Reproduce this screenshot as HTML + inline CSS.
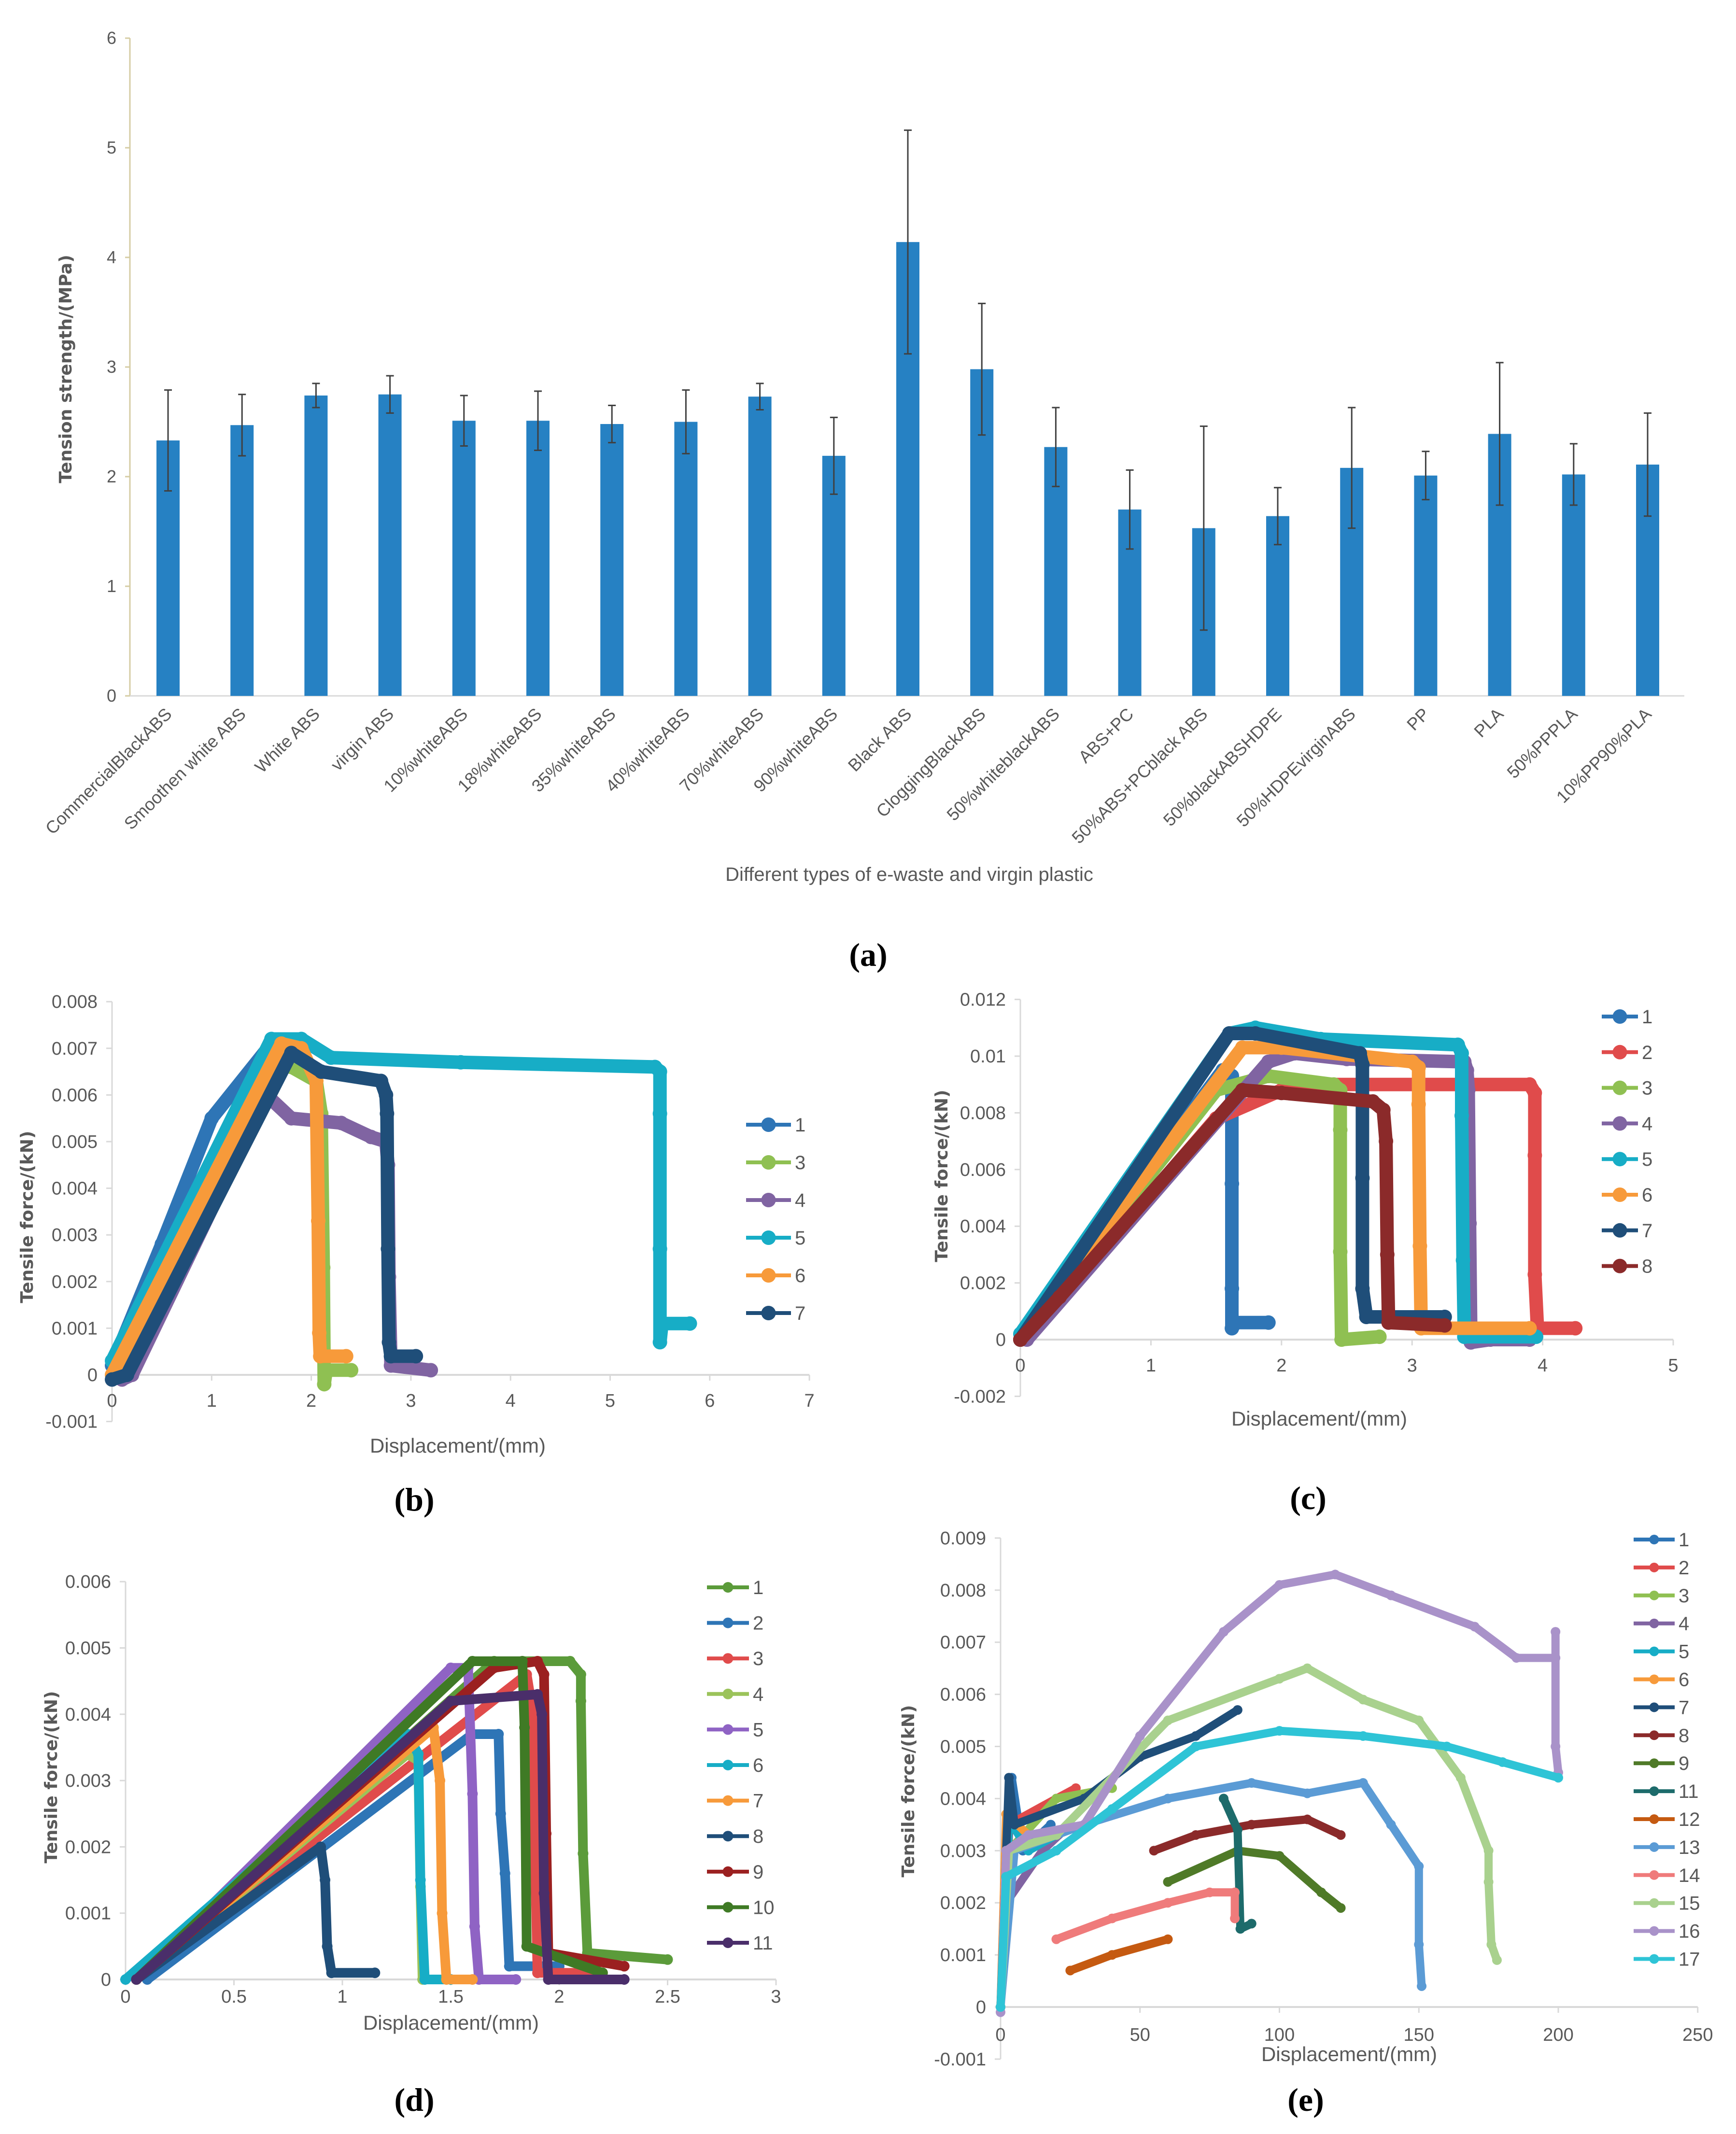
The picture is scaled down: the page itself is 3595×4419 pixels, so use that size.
<!DOCTYPE html>
<html><head><meta charset="utf-8">
<style>
html,body{margin:0;padding:0;background:#fff;}
svg{display:block;}
text{font-family:"Liberation Sans Narrow","Liberation Sans",sans-serif;fill:#595959;}
.yt{font-family:"DejaVu Sans","Liberation Sans",sans-serif;font-weight:bold;fill:#595959;}
.pl{font-family:"Liberation Serif",serif;font-weight:bold;fill:#000;font-size:68px;}
</style></head>
<body>
<svg id="fig" width="3595" height="4419" viewBox="0 0 3595 4419" xmlns="http://www.w3.org/2000/svg">
<rect width="3595" height="4419" fill="#fff"/>
<text class="pl" x="1798" y="2000" text-anchor="middle">(a)</text>
<text class="pl" x="858" y="3128" text-anchor="middle">(b)</text>
<text class="pl" x="2709" y="3125" text-anchor="middle">(c)</text>
<text class="pl" x="858" y="4371" text-anchor="middle">(d)</text>
<text class="pl" x="2704" y="4371" text-anchor="middle">(e)</text>
</svg>
<script>
// ---- Chart (a) data ----
const aCategories=["CommercialBlackABS","Smoothen white ABS","White ABS","virgin ABS","10%whiteABS","18%whiteABS","35%whiteABS","40%whiteABS","70%whiteABS","90%whiteABS","Black ABS","CloggingBlackABS","50%whiteblackABS","ABS+PC","50%ABS+PCblack ABS","50%blackABSHDPE","50%HDPEvirginABS","PP","PLA","50%PPPLA","10%PP90%PLA"];
const aValues=[2.33,2.47,2.74,2.75,2.51,2.51,2.48,2.50,2.73,2.19,4.14,2.98,2.27,1.70,1.53,1.64,2.08,2.01,2.39,2.02,2.11];
const aErrors=[0.46,0.28,0.11,0.17,0.23,0.27,0.17,0.29,0.12,0.35,1.02,0.60,0.36,0.36,0.93,0.26,0.55,0.22,0.65,0.28,0.47];
const aTicks=[0,1,2,3,4,5,6];

// ---- Chart (b) data ----
const bLabels=["1","3","4","5","6","7"];
const bSeries=[
[[0,0.0002],[0.5,0.0028],[1.0,0.0055],[1.6,0.0071],[1.8,0.0071]],
[[0.05,0],[1.6,0.0068],[1.8,0.0066],[2.05,0.0063],[2.1,0.0056],[2.12,0.0023],[2.13,-0.0002],[2.15,0.0001],[2.4,0.0001]],
[[0.1,-0.0001],[0.2,0],[1.55,0.006],[1.8,0.0055],[2.3,0.0054],[2.6,0.0051],[2.75,0.005],[2.77,0.0045],[2.78,0.0021],[2.8,0.0002],[3.2,0.0001]],
[[0,0.0003],[1.6,0.0072],[1.9,0.0072],[2.2,0.0068],[3.5,0.0067],[5.45,0.0066],[5.5,0.0065],[5.5,0.0056],[5.5,0.0027],[5.5,0.0007],[5.52,0.0011],[5.8,0.0011]],
[[0,0],[1.7,0.0071],[1.9,0.007],[2.05,0.0063],[2.07,0.0033],[2.08,0.0009],[2.09,0.0004],[2.35,0.0004]],
[[0,-0.0001],[0.15,0],[1.8,0.0069],[2.1,0.0065],[2.7,0.0063],[2.75,0.006],[2.76,0.0056],[2.77,0.0027],[2.78,0.0007],[2.8,0.0004],[3.05,0.0004]]
];
const bColors=["#2e75b6","#8fc052","#8064a2","#17adc6","#f79a3a","#1f4e79"];
const bXTicks=[0,1,2,3,4,5,6,7];
const bYTicks=[-0.001,0,0.001,0.002,0.003,0.004,0.005,0.006,0.007,0.008];

// ---- Chart (c) data ----
const cLabels=["1","2","3","4","5","6","7","8"];
const cSeries=[
[[0,0],[1.55,0.0095],[1.62,0.0093],[1.62,0.0055],[1.62,0.0018],[1.62,0.0004],[1.65,0.0006],[1.9,0.0006]],
[[0,0],[0.3,0.0014],[1.5,0.0078],[2.0,0.0088],[2.3,0.009],[3.9,0.009],[3.94,0.0087],[3.94,0.0065],[3.94,0.0023],[3.96,0.0004],[4.25,0.0004]],
[[0,0],[1.5,0.0088],[1.9,0.0093],[2.4,0.009],[2.45,0.0088],[2.45,0.0074],[2.45,0.0031],[2.46,0],[2.75,0.0001]],
[[0.05,0],[1.9,0.0098],[2.1,0.0101],[2.5,0.0099],[3.4,0.0098],[3.42,0.0095],[3.43,0.0088],[3.44,0.0041],[3.45,-0.0001],[3.6,0],[3.9,0]],
[[0,0.0002],[1.6,0.0108],[1.8,0.011],[2.3,0.0106],[3.35,0.0104],[3.38,0.0101],[3.38,0.0079],[3.39,0.0028],[3.4,0.0001],[3.95,0.0001]],
[[0,0],[1.7,0.0103],[2.0,0.0103],[3.0,0.0098],[3.05,0.0096],[3.05,0.0083],[3.06,0.0033],[3.07,0.0004],[3.9,0.0004]],
[[0,0],[1.6,0.0108],[1.8,0.0108],[2.6,0.0101],[2.62,0.0097],[2.62,0.0057],[2.62,0.0018],[2.65,0.0008],[3.25,0.0008]],
[[0,0],[0.3,0.0015],[1.7,0.0088],[2.0,0.0087],[2.7,0.0084],[2.78,0.0081],[2.8,0.007],[2.81,0.003],[2.82,0.0006],[3.25,0.0005]]
];
const cColors=["#2e75b6","#e04b4b","#8fc052","#8064a2","#17adc6","#f79a3a","#1f4e79","#8b2a2a"];
const cXTicks=[0,1,2,3,4,5];
const cYTicks=[-0.002,0,0.002,0.004,0.006,0.008,0.01,0.012];

// ---- Chart (d) data ----
const dLabels=["1","2","3","4","5","6","7","8","9","10","11"];
const dSeries=[
[[0.05,0],[1.7,0.0048],[2.05,0.0048],[2.1,0.0046],[2.1,0.0042],[2.11,0.0019],[2.13,0.0004],[2.5,0.0003]],
[[0.1,0],[1.6,0.0037],[1.72,0.0037],[1.73,0.0025],[1.75,0.0016],[1.77,0.0002],[2.0,0.0002]],
[[0.05,0],[1.85,0.0046],[1.88,0.004],[1.89,0.0016],[1.9,0.0001],[2.2,0.0001]],
[[0.05,0],[1.3,0.0034],[1.35,0.0033],[1.36,0.0014],[1.37,0],[1.5,0]],
[[0.05,0],[1.5,0.0047],[1.58,0.0047],[1.6,0.0028],[1.61,0.0008],[1.63,0],[1.8,0]],
[[0,0],[1.3,0.0037],[1.35,0.0034],[1.36,0.0015],[1.38,0],[1.5,0]],
[[0.05,0],[1.42,0.0038],[1.45,0.003],[1.46,0.001],[1.48,0],[1.6,0]],
[[0.05,0],[0.9,0.002],[0.92,0.0015],[0.93,0.0005],[0.95,0.0001],[1.15,0.0001]],
[[0.05,0],[1.7,0.0047],[1.9,0.0048],[1.93,0.0046],[1.94,0.0022],[1.95,0.0004],[2.3,0.0002]],
[[0.05,0],[1.6,0.0048],[1.83,0.0048],[1.84,0.0038],[1.85,0.0005],[2.2,0.0001]],
[[0.05,0],[1.5,0.0042],[1.9,0.0043],[1.92,0.004],[1.93,0.0013],[1.95,0],[2.3,0]]
];
const dColors=["#5b9b3a","#2e75b6","#e04b4b","#9bc35a","#8f63c4","#17adc6","#f79a3a","#1f4e79","#9b2020","#3f7a25","#4a2e6a"];
const dXTicks=[0,0.5,1,1.5,2,2.5,3];
const dYTicks=[0,0.001,0.002,0.003,0.004,0.005,0.006];

// ---- Chart (e) data ----
const eLabels=["1","2","3","4","5","6","7","8","9","11","12","13","14","15","16","17"];
const eSeries=[
[[0,0],[4,0.0044],[8,0.003],[18,0.0035]],
[[0,0],[3,0.0035],[20,0.004],[27,0.0042]],
[[0,0],[3,0.003],[20,0.004],[40,0.0042]],
[[0,0],[2,0.002],[15,0.003],[25,0.0035]],
[[0,0],[3,0.0036],[10,0.003],[20,0.0033]],
[[0,0],[2,0.0037],[10,0.0033]],
[[0,0],[3,0.0044],[5,0.0035],[30,0.004],[50,0.0048],[70,0.0052],[85,0.0057]],
[[55,0.003],[70,0.0033],[90,0.0035],[110,0.0036],[122,0.0033]],
[[60,0.0024],[85,0.003],[100,0.0029],[115,0.0022],[122,0.0019]],
[[80,0.004],[85,0.0034],[86,0.0015],[90,0.0016]],
[[25,0.0007],[40,0.001],[60,0.0013]],
[[0,0],[5,0.003],[30,0.0035],[60,0.004],[90,0.0043],[110,0.0041],[130,0.0043],[140,0.0035],[150,0.0027],[150,0.0012],[151,0.0004]],
[[20,0.0013],[40,0.0017],[60,0.002],[75,0.0022],[84,0.0022],[84,0.0017]],
[[0,0],[3,0.003],[20,0.0033],[60,0.0055],[100,0.0063],[110,0.0065],[130,0.0059],[150,0.0055],[165,0.0044],[175,0.003],[175,0.0024],[176,0.0012],[178,0.0009]],
[[0,-0.0001],[2,0.003],[10,0.0033],[30,0.0035],[50,0.0052],[80,0.0072],[100,0.0081],[120,0.0083],[140,0.0079],[170,0.0073],[185,0.0067],[199,0.0067],[199,0.0072],[199,0.005],[200,0.0045]],
[[0,0],[2,0.0025],[20,0.003],[40,0.0038],[70,0.005],[100,0.0053],[130,0.0052],[160,0.005],[180,0.0047],[200,0.0044]]
];
const eColors=["#2e75b6","#e04b4b","#8fc052","#8064a2","#17adc6","#f79a3a","#1f4e79","#8b2a2a","#4f7a28","#1d6b6b","#c55a11","#5b9bd5","#ef7b7b","#a9d18e","#a992c9","#2ec4d6"];
const eXTicks=[0,50,100,150,200,250];
const eYTicks=[-0.001,0,0.001,0.002,0.003,0.004,0.005,0.006,0.007,0.008,0.009];

const NS="http://www.w3.org/2000/svg";
const svg=document.getElementById('fig');
function mk(tag,attrs,parent){const e=document.createElementNS(NS,tag);for(const k in attrs)e.setAttribute(k,attrs[k]);(parent||svg).appendChild(e);return e;}
function txt(s,attrs,parent){const e=mk('text',attrs,parent);e.textContent=s;return e;}

// ---- draw chart (a) ----
(function(){
 const g=mk('g',{});
 
 
 const x0=269,yb=1441,unit=227,right=3488;
 const xPos=i=>348+i*153.2;
 const yPos=v=>yb-v*unit;
 const ya=mk('line',{x1:x0,y1:yPos(6),x2:x0,y2:yb,stroke:'#d6cda4','stroke-width':3},g);
 
 
 const xa=mk('line',{x1:x0,y1:yb,x2:right,y2:yb,stroke:'#d9d9d9','stroke-width':3},g);
 
 
 aTicks.forEach(t=>{
  mk('line',{x1:x0-10,x2:x0,y1:yPos(t),y2:yPos(t),stroke:'#d6cda4','stroke-width':3},g);
  const l=txt(String(t),{x:x0-28,y:yPos(t)+12,'text-anchor':'end','font-size':36},g);
  
  
 });
 aValues.forEach((v,i)=>{
  const cx=xPos(i);
  const r=mk('rect',{x:cx-24,y:yPos(v),width:48,height:v*unit,fill:'#2681c3'},g);
  
  
  const e=aErrors[i];
  const eb=mk('path',{d:`M${cx},${yPos(v+e)}V${yPos(v-e)}M${cx-8},${yPos(v+e)}H${cx+8}M${cx-8},${yPos(v-e)}H${cx+8}`,stroke:'#404040','stroke-width':3,fill:'none'},g);
  
  
  const l=txt(aCategories[i],{x:cx+10,y:yb+40,'text-anchor':'end','font-size':36,transform:`rotate(-45 ${cx+10} ${yb+40})`},g);
  
  
 });
 const xt=txt('Different types of e-waste and virgin plastic',{x:1883,y:1824,'text-anchor':'middle','font-size':40},g);
 
 
 const yt=txt('Tension strength/(MPa)',{x:0,y:0,'text-anchor':'middle','font-size':36,class:'yt',transform:'translate(148,764) rotate(-90)'},g);
 
 
})();

// ---- generic line panel ----
function panel(p){
 const g=mk('g',{});
 
 
 const X=x=>p.x0+x*p.kx, Y=y=>p.y0-y*p.ky;
 const ymin=p.yt[0], ymax=p.yt[p.yt.length-1], xmax=p.xt[p.xt.length-1];
 const ya=mk('line',{x1:p.x0,x2:p.x0,y1:Y(ymax),y2:Y(ymin),stroke:'#d9d9d9','stroke-width':3},g);
 
 
 const xa=mk('line',{x1:p.x0,x2:X(xmax),y1:Y(0),y2:Y(0),stroke:'#d9d9d9','stroke-width':4},g);
 
 
 p.yt.forEach(t=>{
  mk('line',{x1:p.x0-12,x2:p.x0,y1:Y(t),y2:Y(t),stroke:'#d9d9d9','stroke-width':3},g);
  const l=txt(String(t),{x:p.x0-30,y:Y(t)+13,'text-anchor':'end','font-size':38},g);
  
  
 });
 p.xt.forEach(t=>{
  mk('line',{x1:X(t),x2:X(t),y1:Y(0),y2:Y(0)+12,stroke:'#d9d9d9','stroke-width':3},g);
  const l=txt(String(t),{x:X(t),y:Y(0)+p.xlo,'text-anchor':'middle','font-size':38},g);
  
  
 });
 p.series.forEach((s,i)=>{
  const sg=mk('g',{},g);
  
  
  const d=s.map((pt,j)=>(j?'L':'M')+X(pt[0]).toFixed(1)+','+Y(pt[1]).toFixed(1)).join('');
  mk('path',{d:d,stroke:p.colors[i],'stroke-width':p.sw,fill:'none','stroke-linejoin':'round','stroke-linecap':'round'},sg);
  s.forEach(pt=>{mk('circle',{cx:X(pt[0]),cy:Y(pt[1]),r:p.mr,fill:p.colors[i]},sg);});
 });
 p.labels.forEach((lab,i)=>{
  const ly=p.ly+i*p.lstep;
  const lg=mk('g',{},g);
  
  
  mk('line',{x1:p.lx1,x2:p.lx2,y1:ly,y2:ly,stroke:p.colors[i],'stroke-width':8},lg);
  mk('circle',{cx:(p.lx1+p.lx2)/2,cy:ly,r:p.mr,fill:p.colors[i]},lg);
  txt(lab,{x:p.lx2+8,y:ly+14,'font-size':40},lg);
 });
 const xt=txt('Displacement/(mm)',{x:p.xtx,y:p.xty,'text-anchor':'middle','font-size':42},g);
 
 
 const yt=txt('Tensile force/(kN)',{x:0,y:0,'text-anchor':'middle','font-size':36,class:'yt',transform:`translate(${p.ytx},${p.yty}) rotate(-90)`},g);
 
 
}

panel({id:'b',x0:232,kx:206.3,y0:2847,ky:96600,xt:bXTicks,yt:bYTicks,series:bSeries,colors:bColors,labels:bLabels,sw:28,mr:15,xlo:66,
 lx1:1545,lx2:1638,ly:2329,lstep:78,xtx:948,xty:3008,ytx:68,yty:2520});
panel({id:'c',x0:2113,kx:270.4,y0:2774,ky:58700,xt:cXTicks,yt:cYTicks,series:cSeries,colors:cColors,labels:cLabels,sw:28,mr:15,xlo:66,
 lx1:3317,lx2:3392,ly:2105,lstep:73.8,xtx:2732,xty:2952,ytx:1962,yty:2435});
panel({id:'d',x0:260,kx:449,y0:4099,ky:137300,xt:dXTicks,yt:dYTicks,series:dSeries,colors:dColors,labels:dLabels,sw:20,mr:11,xlo:48,
 lx1:1464,lx2:1551,ly:3287,lstep:73.6,xtx:934,xty:4203,ytx:118,yty:3680});
panel({id:'e',x0:2072,kx:5.775,y0:4156,ky:107900,xt:eXTicks,yt:eYTicks,series:eSeries,colors:eColors,labels:eLabels,sw:17,mr:10,xlo:70,
 lx1:3383,lx2:3468,ly:3188,lstep:57.9,xtx:2794,xty:4268,ytx:1893,yty:3709});
</script>
</body></html>
